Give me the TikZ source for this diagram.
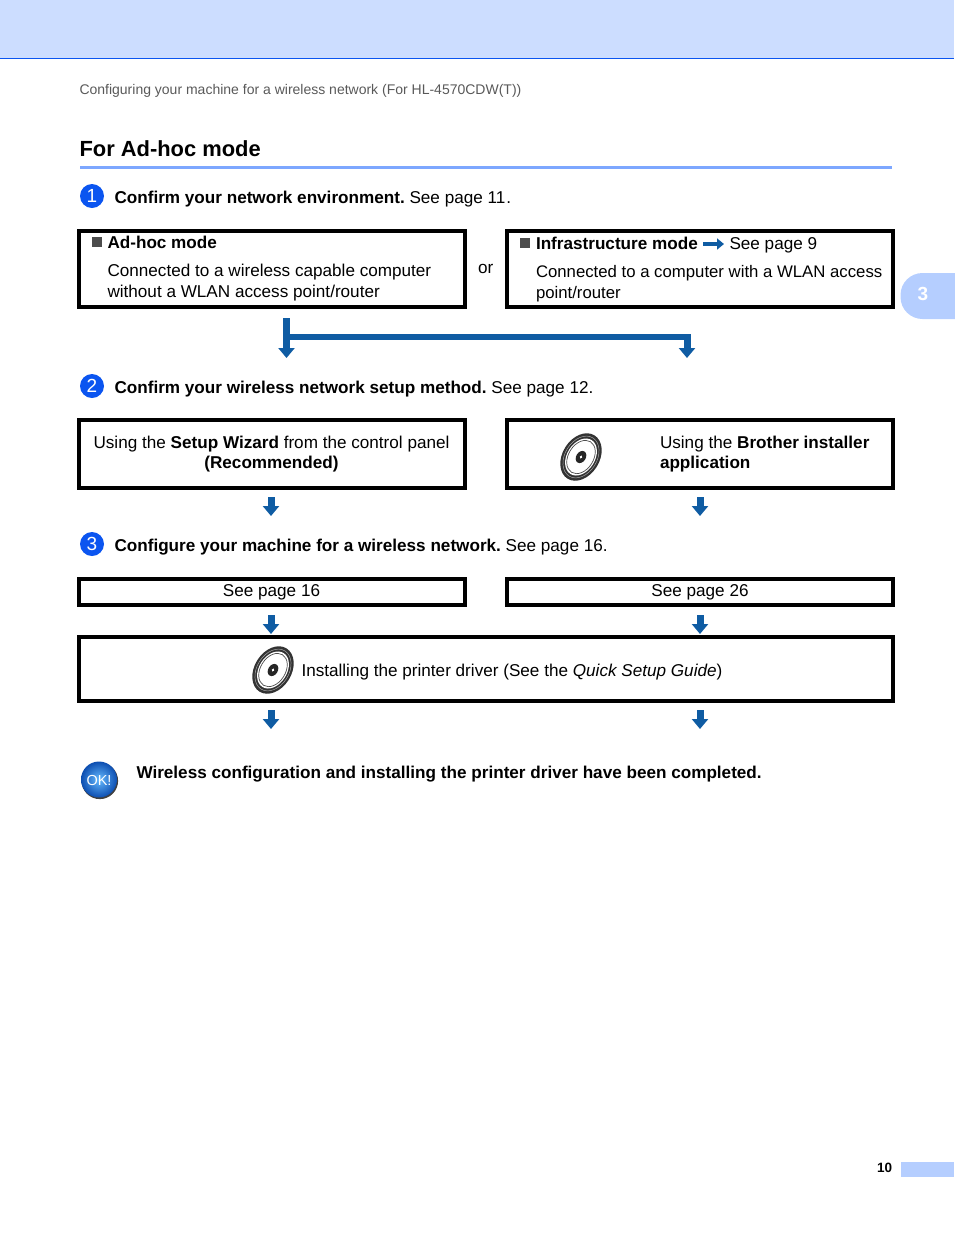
\documentclass[tikz,border=0pt]{standalone}
\usepackage{fontspec}
\setmainfont{Liberation Sans}
\usetikzlibrary{arrows.meta,positioning,shadings}
\definecolor{headerblue}{HTML}{CCDDFF}
\definecolor{ruleblue}{HTML}{7DA7FF}
\definecolor{tabblue}{HTML}{B5CEFF}
\definecolor{badgeblue}{HTML}{0B55F0}
\definecolor{arrowblue}{HTML}{0F5CA3}
\tikzset{
  flowbox/.style={draw=black, line width=4pt, fill=white, inner sep=0pt, outer sep=0pt, align=center},
  bodytext/.style={inner sep=0pt, outer sep=0pt, anchor=base west, font=\fontsize{17.13}{21}\selectfont},
  blocktext/.style={inner sep=0pt, outer sep=0pt, anchor=north west, align=left, font=\fontsize{17.13}{21}\selectfont},
  flowarrow/.style={draw=arrowblue, line width=7pt, -{Triangle[width=16pt,length=10pt]}},
  stepbadge/.style={circle, fill=badgeblue, text=white, minimum size=24pt, inner sep=0pt, font=\fontsize{19}{19}\selectfont},
  squaremark/.style={fill=black!70, minimum size=10pt, inner sep=0pt},
  pics/disc/.style={code={
    \fill[black!80] (0,0) circle[x radius=25.5pt, y radius=18.5pt, rotate=58];
    \draw[black!35, line width=.5pt] (0,0) circle[x radius=22.5pt, y radius=16pt, rotate=58];
    \fill[white] (0,0) circle[x radius=20pt, y radius=14pt, rotate=58];
    \draw[black!70, line width=.7pt] (0,0) circle[x radius=18pt, y radius=12.5pt, rotate=58];
    \fill[black!85] (0,0) circle[x radius=6.5pt, y radius=4.8pt, rotate=58];
    \fill[white] (0,0) circle[x radius=1.8pt, y radius=1.2pt, rotate=58];
  }}
}
\begin{document}
\begin{tikzpicture}[x=1pt,y=-1pt]
\useasboundingbox (0,0) rectangle (954,1235);
% page furniture
\fill[headerblue] (0,0) rectangle (954,58);
\draw[badgeblue, line width=1pt] (0,58.5) -- (954,58.5);
\node[bodytext, text=black!65, font=\fontsize{14}{17}\selectfont] (runhead) at (79.5,94) {Configuring your machine for a wireless network (For HL-4570CDW(T))};
\node[bodytext, font=\bfseries\fontsize{21.9}{26}\selectfont] (title) at (79.5,156.5) {For Ad-hoc mode};
\fill[ruleblue] (80,166) rectangle (892,169);
\fill[tabblue, rounded corners=22pt] (900.5,273) rectangle (985,319);
\node[text=white, font=\bfseries\fontsize{19}{19}\selectfont, inner sep=0pt] (tabnum) at (923,294) {3};
\node[bodytext, font=\bfseries\fontsize{13.5}{16}\selectfont] (pagenum) at (877,1172) {10};
\fill[tabblue] (901,1162) rectangle (954,1177);

% step 1
\node[stepbadge] (s1) at (92,196) {1};
\node[bodytext] (s1text) at (114.5,203) {\textbf{Confirm your network environment.}\kern0pt\ See page 11\kern1pt.};
\node[flowbox, minimum width=386pt, minimum height=76pt] (adhoc) at (272,269) {};
\node[flowbox, minimum width=386pt, minimum height=76pt] (infra) at (700,269) {};
\node[bodytext] (ortext) at (478,273) {or};
\node[squaremark] (m1) at (96.5,242) {};
\node[bodytext] (adhochead) at (107.5,248) {\textbf{Ad-hoc mode}};
\node[blocktext] (adhocbody) at (107.5,264) {Connected to a wireless capable computer\\without a WLAN access point/router};
\node[squaremark] (m2) at (525,243) {};
\node[bodytext] (infrahead) at (536,249) {\textbf{Infrastructure mode}};
\coordinate (inA) at (703,244);
\coordinate (inB) at (724,244);
\draw[draw=arrowblue, line width=4pt, -{Triangle[width=11pt,length=7pt]}] (inA) -- (inB);
\node[bodytext] (infrapage) at (729.5,249) {See page 9};
\node[blocktext, font=\fontsize{16.75}{21}\selectfont] (infrabody) at (536,265) {Connected to a computer with a WLAN access\\point/router};

% split below step 1
\coordinate (splitL) at (286.5,318);
\coordinate (endL) at (286.5,358);
\coordinate (splitM) at (283,337);
\coordinate (splitR) at (691,337);
\coordinate (turnR) at (687,334);
\coordinate (endR) at (687,358);
\draw[flowarrow] (splitL) -- (endL);
\draw[draw=arrowblue, line width=6.5pt] (splitM) -- (splitR);
\draw[flowarrow] (turnR) -- (endR);

% step 2
\node[stepbadge] (s2) at (92,386) {2};
\node[bodytext] (s2text) at (114.5,393) {\textbf{Confirm your wireless network setup method.}\kern0pt\ See page 12.};
\node[flowbox, minimum width=386pt, minimum height=68pt] (wizard) at (272,454) {};
\node[inner sep=0pt, align=center, font=\fontsize{17.13}{20.5}\selectfont] (wizardtext) at (271.5,454) {Using the \textbf{Setup Wizard} from the control panel\\\textbf{(Recommended)}};
\node[flowbox, minimum width=386pt, minimum height=68pt] (installer) at (700,454) {};
\pic at (581,457) {disc};
\node[blocktext, font=\fontsize{17.13}{20.5}\selectfont] (installertext) at (660,436) {Using the \textbf{Brother installer}\\\textbf{application}};
\coordinate (a2L) at (271,497);
\coordinate (b2L) at (271,516);
\coordinate (a2R) at (700,497);
\coordinate (b2R) at (700,516);
\draw[flowarrow] (a2L) -- (b2L);
\draw[flowarrow] (a2R) -- (b2R);

% step 3
\node[stepbadge] (s3) at (92,544) {3};
\node[bodytext] (s3text) at (114.5,551) {\textbf{Configure your machine for a wireless network.}\kern0pt\ See page 16.};
\node[flowbox, minimum width=386pt, minimum height=26pt] (p16) at (272,592) {};
\node[bodytext, anchor=base] (p16text) at (271.5,596) {See page 16};
\node[flowbox, minimum width=386pt, minimum height=26pt] (p26) at (700,592) {};
\node[bodytext, anchor=base] (p26text) at (700,596) {See page 26};
\node[flowbox, minimum width=814pt, minimum height=64pt] (driver) at (486,669) {};
\pic at (273,670) {disc};
\node[bodytext] (drivertext) at (301.5,676) {Installing the printer driver (See the \textit{Quick Setup Guide})};
\coordinate (a3L) at (271,615);
\coordinate (b3L) at (271,634);
\coordinate (a3R) at (700,615);
\coordinate (b3R) at (700,634);
\draw[flowarrow] (a3L) -- (b3L);
\draw[flowarrow] (a3R) -- (b3R);
\coordinate (a4L) at (271,710);
\coordinate (b4L) at (271,729);
\coordinate (a4R) at (700,710);
\coordinate (b4R) at (700,729);
\draw[flowarrow] (a4L) -- (b4L);
\draw[flowarrow] (a4R) -- (b4R);

% done
\fill[black!75] (99.8,780.8) circle[radius=18.3pt];
\shade[inner color=blue!45!cyan!60!white, outer color=arrowblue!85!blue, shading=radial] (99,779.5) circle[radius=18pt];
\node[text=white, inner sep=0pt, font=\fontsize{14.5}{15}\selectfont] (okbadge) at (99,780) {OK!};
\node[bodytext, font=\bfseries\fontsize{17.13}{21}\selectfont] (donetext) at (136.5,778) {Wireless configuration and installing the printer driver have been completed.};
\end{tikzpicture}
\end{document}
